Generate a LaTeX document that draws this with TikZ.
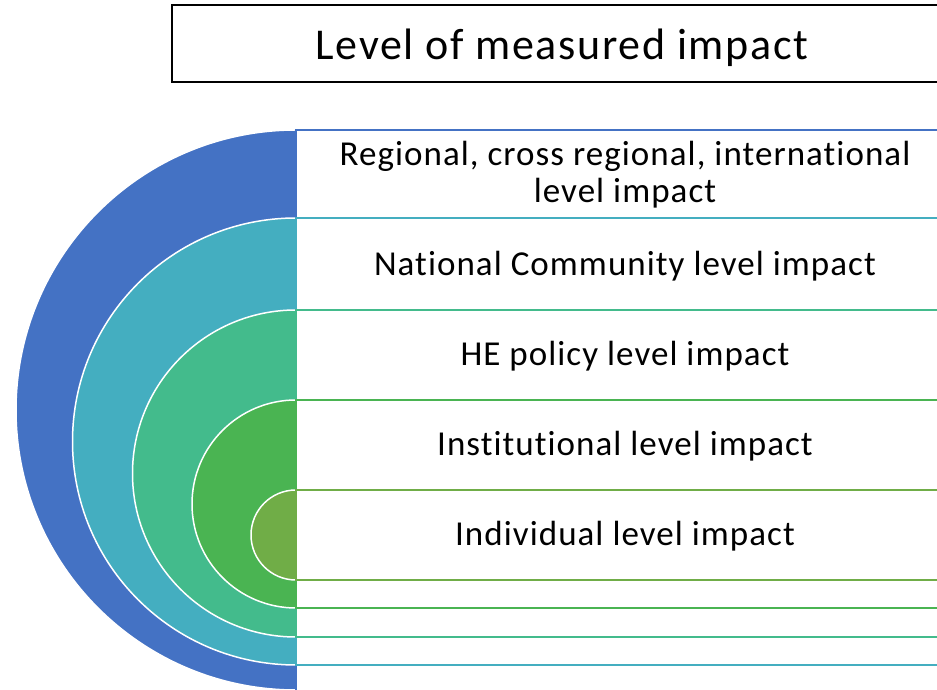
\documentclass[tikz,border=0pt]{standalone}
\usepackage{fontspec}
\setmainfont[Ligatures=NoCommon]{Carlito}
\usepackage{xcolor}
\usepackage{tikz}

\definecolor{ringA}{HTML}{4472C4}
\definecolor{ringB}{HTML}{44AEC0}
\definecolor{ringC}{HTML}{43BB8C}
\definecolor{ringD}{HTML}{4AB452}
\definecolor{ringE}{HTML}{70AD47}

\begin{document}
\begin{tikzpicture}[x=1pt,y=1pt,
		ring/.style={line width=1.5pt,draw=white},
		band/.style={line width=1.8pt},
		label/.style={font=\fontsize{35}{37}\selectfont\addfontfeatures{LetterSpace=3},align=center,inner sep=0pt}]
		\useasboundingbox (0,0) rectangle (937,690);
		\clip (0,0) rectangle (937,690);
		% half rings
		\filldraw[ring,fill=ringA] (296,560) arc[start angle=90,end angle=270,radius=280] -- cycle;
		\filldraw[ring,fill=ringB] (296,472) arc[start angle=90,end angle=270,radius=223.5] -- cycle;
		\filldraw[ring,fill=ringC] (296,380) arc[start angle=90,end angle=270,radius=163.5] -- cycle;
		\filldraw[ring,fill=ringD] (296,290) arc[start angle=90,end angle=270,radius=104] -- cycle;
		\filldraw[ring,fill=ringE] (296,200) arc[start angle=90,end angle=270,radius=45] -- cycle;
		% bands
		\draw[band,ringA] (296,-5) rectangle (960,560);
		\draw[band,ringB] (296,25) rectangle (960,472);
		\draw[band,ringC] (296,53) rectangle (960,380);
		\draw[band,ringD] (296,82) rectangle (960,290);
		\draw[band,ringE] (296,110) rectangle (960,200);
		% title
		\draw[line width=1.5pt] (172,608) rectangle (960,685);
		\node[label,font=\fontsize{44}{46}\selectfont\addfontfeatures{LetterSpace=3.8}] (title) at (562,642) {Level of measured impact};
		% levels
		\node[label] (regional) at (625,515) {Regional, cross regional, international\\level impact};
		\node[label] (national) at (625,424) {National Community level impact};
		\node[label] (policy) at (625,334) {HE policy level impact};
		\node[label] (institution) at (625,244) {Institutional level impact};
		\node[label] (individual) at (625,154) {Individual level impact};
	\end{tikzpicture}
\end{document}
